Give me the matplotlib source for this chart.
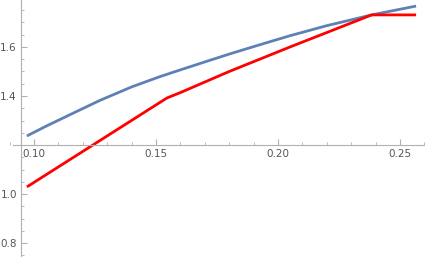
import numpy as np
import matplotlib.pyplot as plt
from matplotlib.ticker import MultipleLocator

# values
blue_x = [0.0971, 0.105, 0.115, 0.127, 0.140, 0.1516, 0.1598, 0.170, 0.1803, 0.1925, 0.2049, 0.220, 0.2384, 0.2566]
blue_y = [1.237, 1.277, 1.325, 1.382, 1.437, 1.479, 1.506, 1.539, 1.572, 1.609, 1.646, 1.687, 1.731, 1.767]

red_x = [0.0971, 0.1545, 0.160, 0.180, 0.2049, 0.220, 0.2384, 0.2566]
red_y = [1.029, 1.392, 1.414, 1.500, 1.600, 1.659, 1.731, 1.731]

x_ticks = [0.10, 0.15, 0.20, 0.25]
y_ticks = [0.8, 1.0, 1.4, 1.6]

fig = plt.figure(figsize=(4.25, 2.57), dpi=100)
ax = fig.add_axes([0, 0, 1, 1])

ax.plot(blue_x, blue_y, color="#5e81b5", lw=2, solid_capstyle="butt")
ax.plot(red_x, red_y, color="#ff0000", lw=2, solid_capstyle="butt")

ax.set_xlim(0.08607, 0.26025)
ax.set_ylim(0.7429, 1.7918)

grey = "#b0b0b0"
for s in ["top", "right"]:
    ax.spines[s].set_visible(False)
ax.spines["left"].set_position(("data", 0.0947))
ax.spines["bottom"].set_position(("data", 1.2))
ax.spines["bottom"].set_bounds(0.0912, 0.26025)
ax.spines["left"].set_color(grey)
ax.spines["bottom"].set_color(grey)

ax.set_xticks(x_ticks)
ax.set_xticklabels(["0.10", "0.15", "0.20", "0.25"])
ax.set_yticks(y_ticks)
ax.set_yticklabels(["0.8", "1.0", "1.4", "1.6"])
ax.xaxis.set_minor_locator(MultipleLocator(0.01))
ax.yaxis.set_minor_locator(MultipleLocator(0.05))

ax.tick_params(which="major", direction="in", length=4, width=0.8, color=grey,
               labelsize=7.5, labelcolor="#555555", pad=3)
ax.tick_params(which="minor", direction="in", length=2, width=0.6, color=grey)

fig.savefig("out.png", dpi=100)
